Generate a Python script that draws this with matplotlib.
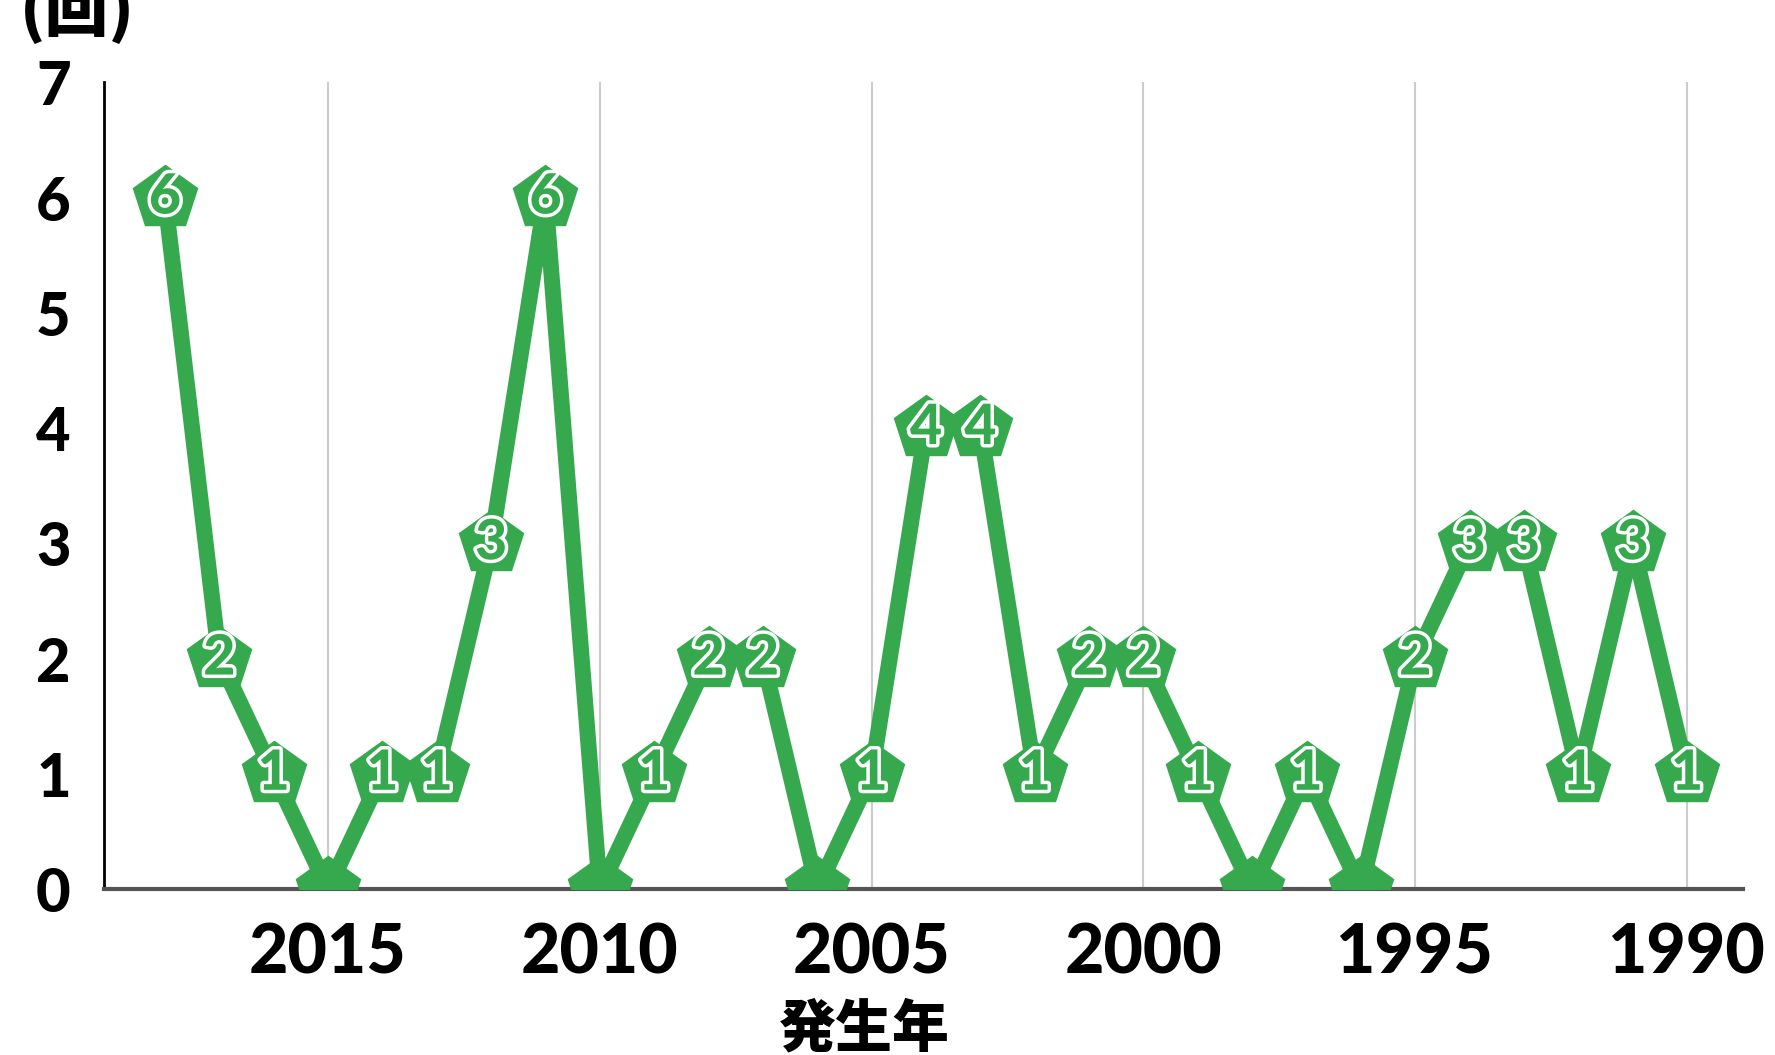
import matplotlib.pyplot as plt
import matplotlib.patheffects as pe

plt.rcParams['font.family'] = ['Lato', 'Liberation Sans', 'Noto Sans CJK JP', 'DejaVu Sans']

# 発生年ごとの回数
years = [2018, 2017, 2016, 2015, 2014, 2013, 2012, 2011, 2010, 2009,
         2008, 2007, 2006, 2005, 2004, 2003, 2002, 2001, 2000, 1999,
         1998, 1997, 1996, 1995, 1994, 1993, 1992, 1991, 1990]
counts = [6, 2, 1, 0, 1, 1, 3, 6, 0, 1,
          2, 2, 0, 1, 4, 4, 1, 2, 2, 1,
          0, 1, 0, 2, 3, 3, 1, 3, 1]
xticks = [2015, 2010, 2005, 2000, 1995, 1990]
yticks = [0, 1, 2, 3, 4, 5, 6, 7]

green = '#36a94f'

fig = plt.figure(figsize=(17.75, 10.55), dpi=100)
ax = fig.add_axes([0.0586, 0.1573, 0.9234, 0.7647])

ax.plot(years, counts, color=green, linewidth=11.5, marker='p',
        markersize=48, markerfacecolor=green, markeredgecolor=green, zorder=3)

# 0 の年は数字を出さない
for x, y in zip(years, counts):
    if y == 0:
        continue
    ax.text(x, y, str(y), ha='center', va='center', fontsize=40,
            fontweight='black', color=green, zorder=4,
            path_effects=[pe.withStroke(linewidth=5, foreground='white')])

ax.set_xlim(2019.12, 1988.97)
ax.set_ylim(0, 7)
ax.set_xticks(xticks)
ax.set_yticks(yticks)
ax.tick_params(axis='both', length=0)
ax.tick_params(axis='x', pad=24, labelsize=49)
ax.tick_params(axis='y', pad=24, labelsize=43)
for lbl in ax.get_xticklabels() + ax.get_yticklabels():
    lbl.set_fontweight('black')

ax.grid(axis='x', color='#cccccc', linewidth=1.5)
ax.set_axisbelow(True)
for s in ['top', 'right']:
    ax.spines[s].set_visible(False)
ax.spines['left'].set_color('black')
ax.spines['left'].set_linewidth(2)
ax.spines['bottom'].set_color('#555555')
ax.spines['bottom'].set_linewidth(3)

fig.text(0.487, 0.024, '発生年', ha='center', va='center', fontsize=41,
         fontweight='black', family=['Noto Sans CJK JP', 'DejaVu Sans'])
fig.text(0.011, 0.99, '(回)', ha='left', va='center', fontsize=46,
         fontweight='black', family=['Noto Sans CJK JP', 'DejaVu Sans'])

fig.savefig('out.png', dpi=100)
